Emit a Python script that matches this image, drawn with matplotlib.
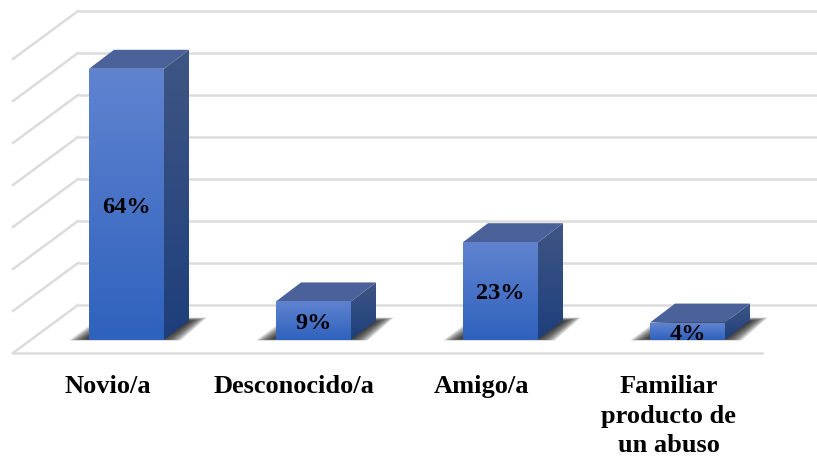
"""
plot.py

Pseudo-3D column chart, drawn by hand on one axes because matplotlib has
no office-style 3D column. Axes units: x = category index, y = percent.
"""

import numpy as np
import matplotlib
matplotlib.use("Agg")
import matplotlib.pyplot as plt
from matplotlib.colors import LinearSegmentedColormap
from matplotlib.patches import Polygon

OUTPUT_FILE = "out.png"

categories = ["Novio/a", "Desconocido/a", "Amigo/a", "Familiar\nproducto de\nun abuso"]
values = [64, 9, 23, 4]
labels = ["64%", "9%", "23%", "4%"]
grid_levels = [0, 10, 20, 30, 40, 50, 60, 70]

W, H = 817, 458
PX_X = 187.0    # px per category
PX_Y = 4.23     # px per percent
X0, Y0 = 126.5, 339.5   # px position of category 0, value 0

plt.rcParams["font.family"] = ["Liberation Serif", "DejaVu Serif"]

fig = plt.figure(figsize=(W / 100, H / 100), dpi=100)
ax = fig.add_axes([0, 0, 1, 1])
ax.set_xlim(-X0 / PX_X, (W - X0) / PX_X)
ax.set_ylim(-(H - Y0) / PX_Y, Y0 / PX_Y)
ax.axis("off")

dx = 25 / PX_X      # column depth
dy = 19 / PX_Y
half = 37.5 / PX_X  # half column width


def xp(px):
    return (px - X0) / PX_X


def yp(px):
    return (Y0 - px) / PX_Y


front_cmap = LinearSegmentedColormap.from_list("front", ["#2f62bd", "#6083d0"])
side_cmap = LinearSegmentedColormap.from_list("side", ["#1e3f7c", "#3f5684"])


def gradient_poly(points, cmap, zorder):
    poly = Polygon(points, closed=True, facecolor="none", edgecolor="none", zorder=zorder)
    ax.add_patch(poly)
    xs = [p[0] for p in points]
    ys = [p[1] for p in points]
    im = ax.imshow(np.linspace(0, 1, 64).reshape(-1, 1), cmap=cmap, aspect="auto",
                   origin="lower", extent=[min(xs), max(xs), min(ys), max(ys)],
                   zorder=zorder, interpolation="bilinear")
    im.set_clip_path(poly)
    return poly


# --- walls: back gridlines and the slanted left side -------------------------
grid_step = 42.0 / PX_Y / 10
for lev in grid_levels:
    back_y = yp(305) + lev * grid_step
    ax.plot([xp(78), xp(W + 5)], [back_y, back_y], color="#dcdcdc", lw=1.8,
            solid_capstyle="butt", zorder=1)
    ax.plot([xp(13), xp(78)], [back_y - 48 / PX_Y, back_y], color="#dcdcdc", lw=1.8,
            zorder=1)

# floor front edge
ax.plot([xp(13), xp(762)], [yp(353), yp(353)], color="#dcdcdc", lw=1.8, zorder=1)

# --- columns ------------------------------------------------------------------
for i, (val, lab) in enumerate(zip(values, labels)):
    left, right = i - half, i + half

    # soft shadow on the floor, stacked translucent layers from wide to narrow
    for k in np.linspace(1, -0.4, 18):
        grow = k * 14 / PX_X
        rise = k * 3 / PX_Y
        ax.add_patch(Polygon([(left - 6 / PX_X - grow, -rise * 0.3),
                              (right + 3 / PX_X + grow, -rise * 0.3),
                              (right + dx + 4 / PX_X + grow, dy + rise),
                              (left + dx - grow, dy + rise)],
                             closed=True, facecolor="#1a1a1a", edgecolor="none",
                             alpha=0.1, zorder=2))

    gradient_poly([(right, 0), (right + dx, dy), (right + dx, val + dy), (right, val)],
                  side_cmap, 3)
    ax.add_patch(Polygon([(left, val), (right, val), (right + dx, val + dy),
                          (left + dx, val + dy)],
                         closed=True, facecolor="#4a6299", edgecolor="none", zorder=3))
    face = gradient_poly([(left, 0), (right, 0), (right, val), (left, val)], front_cmap, 4)

    txt = ax.text(i, val / 2 - 3 / PX_Y, lab, ha="center", va="center", fontsize=17.5,
                  fontweight="bold", color="black", zorder=5)
    txt.set_clip_path(Polygon([(left, 0), (right, 0), (right, 200), (left, 200)],
                              transform=ax.transData))

    ax.text(i - 19 / PX_X, yp(375), categories[i], ha="center", va="top", fontsize=19,
            fontweight="bold", color="black", linespacing=1.37)

ax.set_xlim(-X0 / PX_X, (W - X0) / PX_X)
ax.set_ylim(-(H - Y0) / PX_Y, Y0 / PX_Y)

fig.savefig(OUTPUT_FILE, dpi=100, facecolor="white")
